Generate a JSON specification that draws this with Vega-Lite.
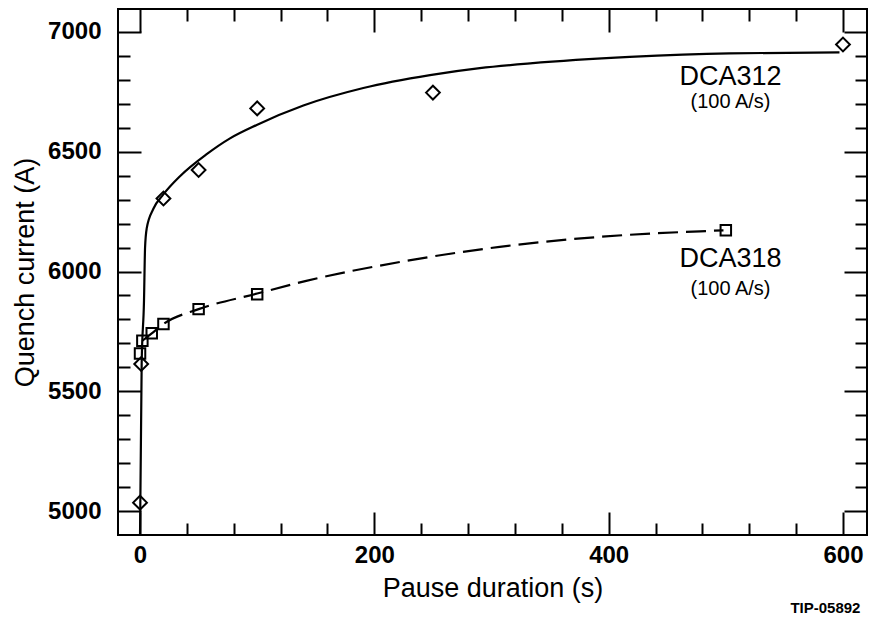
{
  "$schema": "https://vega.github.io/schema/vega-lite/v6.json",
  "width": 749,
  "height": 526,
  "autosize": {"type": "none"},
  "padding": {"left": 118, "top": 9, "right": 3, "bottom": 86},
  "background": "white",
  "config": {
    "view": {"stroke": "black", "strokeWidth": 2},
    "font": "Liberation Sans",
    "axis": {
      "grid": false,
      "domain": false,
      "tickColor": "black",
      "tickWidth": 2,
      "labelColor": "black",
      "titleColor": "black",
      "labelFont": "Liberation Sans",
      "titleFont": "Liberation Sans"
    }
  },
  "datasets": {
    "points": [
      {"series": "DCA312", "t": 0, "current": 5035},
      {"series": "DCA312", "t": 1, "current": 5614},
      {"series": "DCA312", "t": 20, "current": 6305},
      {"series": "DCA312", "t": 50, "current": 6424},
      {"series": "DCA312", "t": 100, "current": 6681},
      {"series": "DCA312", "t": 250, "current": 6747},
      {"series": "DCA312", "t": 600, "current": 6948},
      {"series": "DCA318", "t": 0, "current": 5658},
      {"series": "DCA318", "t": 2, "current": 5711},
      {"series": "DCA318", "t": 10, "current": 5742},
      {"series": "DCA318", "t": 20, "current": 5781},
      {"series": "DCA318", "t": 50, "current": 5843},
      {"series": "DCA318", "t": 100, "current": 5905},
      {"series": "DCA318", "t": 500, "current": 6172}
    ],
    "fits": [
      {"series": "DCA312", "t": 0, "current": 4900},
      {"series": "DCA312", "t": 1.4, "current": 5614},
      {"series": "DCA312", "t": 3.4, "current": 5880},
      {"series": "DCA312", "t": 4.3, "current": 6100},
      {"series": "DCA312", "t": 5.7, "current": 6180},
      {"series": "DCA312", "t": 11.4, "current": 6262},
      {"series": "DCA312", "t": 19.9, "current": 6322},
      {"series": "DCA312", "t": 34.1, "current": 6398},
      {"series": "DCA312", "t": 56.9, "current": 6490},
      {"series": "DCA312", "t": 76.8, "current": 6556},
      {"series": "DCA312", "t": 99.6, "current": 6612},
      {"series": "DCA312", "t": 139.4, "current": 6693},
      {"series": "DCA312", "t": 190.6, "current": 6766},
      {"series": "DCA312", "t": 247.5, "current": 6820},
      {"series": "DCA312", "t": 290, "current": 6849},
      {"series": "DCA312", "t": 333, "current": 6869},
      {"series": "DCA312", "t": 418, "current": 6896},
      {"series": "DCA312", "t": 503, "current": 6911},
      {"series": "DCA312", "t": 597, "current": 6915},
      {"series": "DCA318", "t": 2, "current": 5711},
      {"series": "DCA318", "t": 10, "current": 5742},
      {"series": "DCA318", "t": 20, "current": 5781},
      {"series": "DCA318", "t": 50, "current": 5843},
      {"series": "DCA318", "t": 100, "current": 5908},
      {"series": "DCA318", "t": 141, "current": 5960},
      {"series": "DCA318", "t": 222, "current": 6040},
      {"series": "DCA318", "t": 307, "current": 6103},
      {"series": "DCA318", "t": 393, "current": 6145},
      {"series": "DCA318", "t": 478, "current": 6168},
      {"series": "DCA318", "t": 498, "current": 6172}
    ],
    "labels": [
      {"kind": "name", "label": "DCA312", "t": 504, "current": 6812},
      {"kind": "rate", "label": "(100 A/s)", "t": 504, "current": 6708},
      {"kind": "name", "label": "DCA318", "t": 504, "current": 6052},
      {"kind": "rate", "label": "(100 A/s)", "t": 504, "current": 5927},
      {"kind": "note", "label": "TIP-05892", "t": 585, "current": 4595}
    ]
  },
  "resolve": {"axis": {"x": "independent", "y": "independent"}},
  "layer": [
    {
      "data": {"name": "fits"},
      "transform": [{"filter": "datum.series === 'DCA312'"}],
      "mark": {"type": "line", "color": "black", "strokeWidth": 2.2, "interpolate": "monotone"},
      "encoding": {
        "x": {"field": "t", "type": "quantitative",
              "scale": {"domain": [-18.8, 620.5], "nice": false, "zero": false},
              "axis": {"orient": "bottom", "values": [0, 200, 400, 600], "ticks": false, "format": "d",
                       "labelFontSize": 24, "labelFontWeight": "bold", "labelPadding": 8, "title": "Pause duration (s)",
                       "titleFontSize": 27, "titleFontWeight": "normal", "titlePadding": 8}},
        "y": {"field": "current", "type": "quantitative",
              "scale": {"domain": [4900, 7096], "nice": false, "zero": false},
              "axis": {"orient": "left", "values": [5000, 5500, 6000, 6500, 7000], "ticks": false, "format": "d",
                       "labelFontSize": 24, "labelFontWeight": "bold", "labelPadding": 17, "title": "Quench current (A)",
                       "titleFontSize": 27, "titleFontWeight": "normal", "titlePadding": 8}}
      }
    },
    {
      "data": {"name": "fits"},
      "transform": [{"filter": "datum.series === 'DCA318'"}],
      "mark": {"type": "line", "color": "black", "strokeWidth": 2.2, "strokeDash": [20, 8], "interpolate": "monotone"},
      "encoding": {
        "x": {"field": "t", "type": "quantitative",
              "scale": {"domain": [-18.8, 620.5], "nice": false, "zero": false},
              "axis": {"orient": "bottom", "values": [0, 200, 400, 600], "labels": false, "tickSize": -23, "title": null}},
        "y": {"field": "current", "type": "quantitative",
              "scale": {"domain": [4900, 7096], "nice": false, "zero": false},
              "axis": {"orient": "left", "values": [5000, 5500, 6000, 6500, 7000], "labels": false, "tickSize": -23, "title": null}}
      }
    },
    {
      "data": {"name": "points"},
      "transform": [{"filter": "datum.series === 'DCA312'"}],
      "mark": {"type": "point", "shape": "diamond", "filled": false, "stroke": "black", "strokeWidth": 2, "size": 190, "opacity": 1},
      "encoding": {
        "x": {"field": "t", "type": "quantitative",
              "scale": {"domain": [-18.8, 620.5], "nice": false, "zero": false},
              "axis": {"orient": "bottom", "values": [40, 80, 120, 160, 240, 280, 320, 360, 440, 480, 520, 560], "labels": false, "tickSize": -12, "title": null}},
        "y": {"field": "current", "type": "quantitative",
              "scale": {"domain": [4900, 7096], "nice": false, "zero": false},
              "axis": {"orient": "left", "values": [5100, 5200, 5300, 5400, 5600, 5700, 5800, 5900, 6100, 6200, 6300, 6400, 6600, 6700, 6800, 6900], "labels": false, "tickSize": -12, "title": null}}
      }
    },
    {
      "data": {"name": "points"},
      "transform": [{"filter": "datum.series === 'DCA318'"}],
      "mark": {"type": "point", "shape": "square", "filled": false, "stroke": "black", "strokeWidth": 2, "size": 110, "opacity": 1},
      "encoding": {
        "x": {"field": "t", "type": "quantitative",
              "scale": {"domain": [-18.8, 620.5], "nice": false, "zero": false},
              "axis": {"orient": "top", "values": [0, 200, 400, 600], "labels": false, "tickSize": -23, "title": null}},
        "y": {"field": "current", "type": "quantitative",
              "scale": {"domain": [4900, 7096], "nice": false, "zero": false},
              "axis": {"orient": "right", "values": [5000, 5500, 6000, 6500, 7000], "labels": false, "tickSize": -23, "title": null}}
      }
    },
    {
      "data": {"name": "labels"},
      "transform": [{"filter": "datum.kind === 'name'"}],
      "mark": {"type": "text", "fontSize": 27, "font": "Liberation Sans", "color": "black", "align": "center", "baseline": "middle"},
      "encoding": {
        "x": {"field": "t", "type": "quantitative",
              "scale": {"domain": [-18.8, 620.5], "nice": false, "zero": false},
              "axis": {"orient": "top", "values": [40, 80, 120, 160, 240, 280, 320, 360, 440, 480, 520, 560], "labels": false, "tickSize": -12, "title": null}},
        "y": {"field": "current", "type": "quantitative",
              "scale": {"domain": [4900, 7096], "nice": false, "zero": false},
              "axis": {"orient": "right", "values": [5100, 5200, 5300, 5400, 5600, 5700, 5800, 5900, 6100, 6200, 6300, 6400, 6600, 6700, 6800, 6900], "labels": false, "tickSize": -12, "title": null}},
        "text": {"field": "label"}
      }
    },
    {
      "data": {"name": "labels"},
      "transform": [{"filter": "datum.kind === 'rate'"}],
      "mark": {"type": "text", "fontSize": 20, "font": "Liberation Sans", "color": "black", "align": "center", "baseline": "middle"},
      "encoding": {
        "x": {"field": "t", "type": "quantitative", "scale": {"domain": [-18.8, 620.5], "nice": false, "zero": false}, "axis": null},
        "y": {"field": "current", "type": "quantitative", "scale": {"domain": [4900, 7096], "nice": false, "zero": false}, "axis": null},
        "text": {"field": "label"}
      }
    },
    {
      "data": {"name": "labels"},
      "transform": [{"filter": "datum.kind === 'note'"}],
      "mark": {"type": "text", "fontSize": 15, "fontWeight": "bold", "font": "Liberation Sans", "color": "black", "align": "center", "baseline": "middle", "clip": false},
      "encoding": {
        "x": {"field": "t", "type": "quantitative", "scale": {"domain": [-18.8, 620.5], "nice": false, "zero": false}, "axis": null},
        "y": {"field": "current", "type": "quantitative", "scale": {"domain": [4900, 7096], "nice": false, "zero": false}, "axis": null},
        "text": {"field": "label"}
      }
    }
  ]
}
